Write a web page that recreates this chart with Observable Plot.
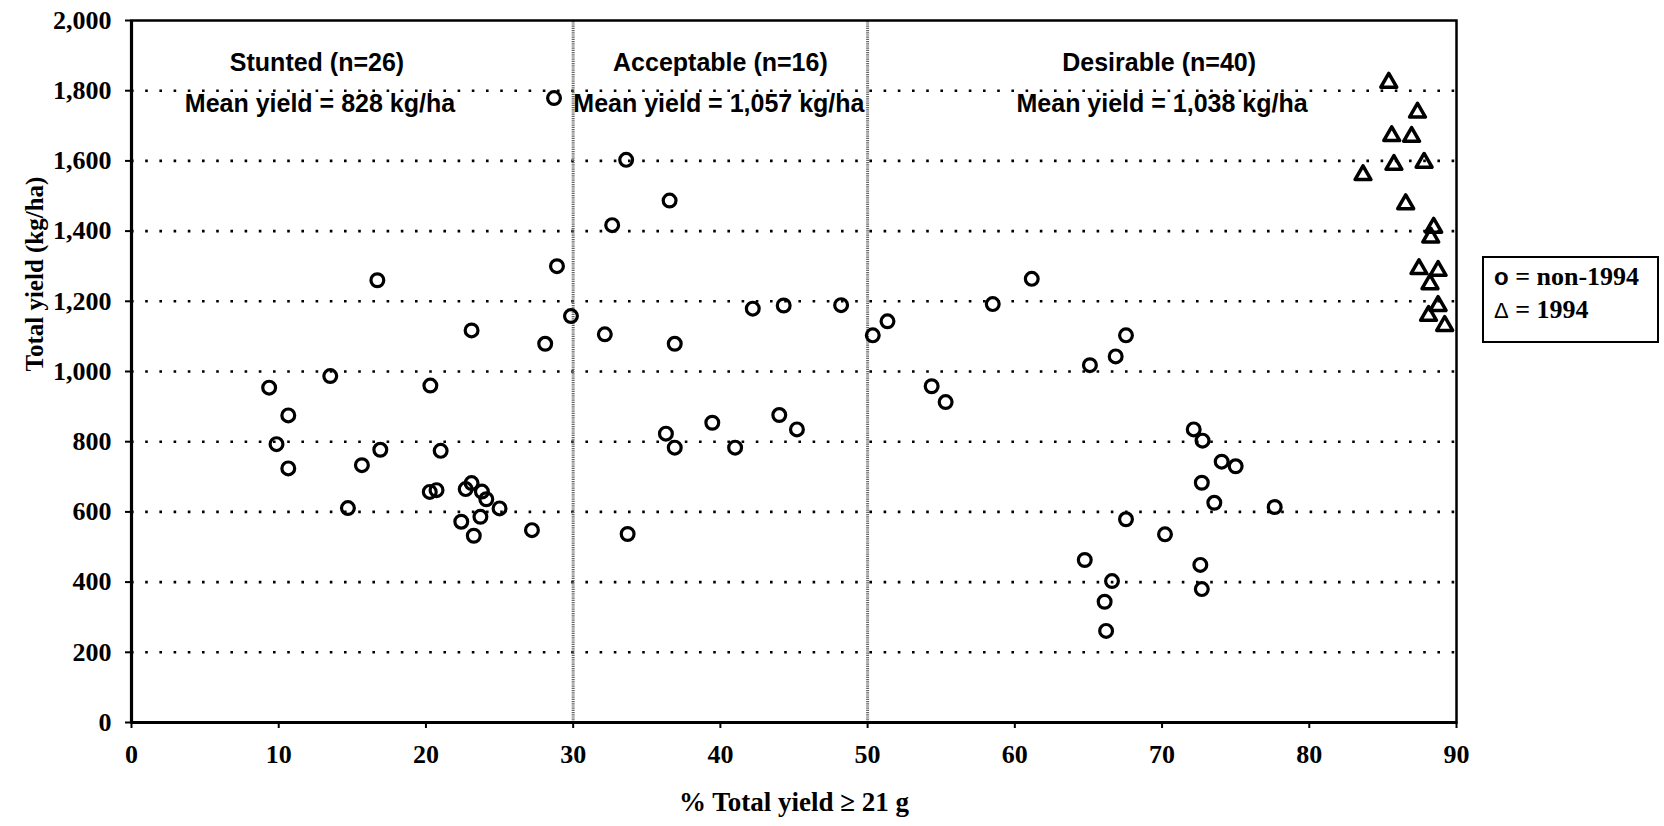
<!DOCTYPE html>
<html>
<head>
<meta charset="utf-8">
<script src="https://cdn.jsdelivr.net/npm/d3@7"></script>
<script src="https://cdn.jsdelivr.net/npm/@observablehq/plot@0.6"></script>
<style>
  html, body { margin: 0; padding: 0; background: #fff; }
  #wrap { position: relative; width: 1664px; height: 826px; }
  #legend {
    position: absolute; left: 1482px; top: 256px; width: 177px; height: 87px;
    box-sizing: border-box; border: 2px solid #000; padding: 2px 0 0 10px;
    font-family: "Liberation Serif", serif; font-weight: bold; font-size: 26px;
    line-height: 33px; color: #000; white-space: nowrap;
  }
  #legend .sym { font-family: "Liberation Sans", sans-serif; font-weight: bold; font-size: 24px; }
  #legend .tri { font-family: "Liberation Sans", sans-serif; font-weight: normal; font-size: 22px; }
</style>
</head>
<body>
<div id="wrap">
  <div id="chart"></div>
  <div id="legend"><div><span class="sym">o</span> = non-1994</div><div><span class="tri">Δ</span> = 1994</div></div>
</div>
<script>
// ---- data ----
const stuntedX = [28.9, 16.7, 23.1, 28.1, 13.5, 9.35, 20.3, 10.65, 9.85, 16.9, 21.0, 10.65, 15.65, 20.26, 20.72, 23.1, 22.7, 23.8, 24.1, 25.0, 14.7, 23.7, 22.4, 23.25, 27.2, 28.7];
const stuntedY = [1300, 1260, 1117, 1079, 987, 954, 960, 875, 793, 777, 774, 724, 733, 657, 662, 682, 665, 658, 636, 610, 611, 586, 572, 532, 548, 1779];

const acceptableX = [29.85, 33.6, 36.55, 32.65, 32.15, 36.9, 42.2, 44.3, 48.2, 39.45, 44.0, 45.2, 36.3, 36.9, 41.0, 33.7];
const acceptableY = [1158, 1603, 1487, 1417, 1106, 1079, 1179, 1188, 1189, 854, 876, 835, 823, 783, 783, 537];

const desirableX = [50.35, 51.35, 58.5, 61.15, 54.35, 55.3, 65.1, 66.85, 67.55, 72.15, 72.75, 74.05, 75.0, 72.7, 73.55, 77.65, 67.55, 70.2, 64.75, 72.6, 66.6, 72.7, 66.1, 66.2];
const desirableY = [1103, 1143, 1192, 1264, 958, 913, 1018, 1043, 1103, 835, 803, 743, 730, 683, 626, 614, 579, 536, 463, 449, 403, 380, 344, 261];

const year1994X = [85.4, 87.35, 85.6, 86.95, 85.75, 87.8, 83.65, 86.55, 88.45, 88.25, 87.45, 88.75, 88.2, 88.75, 88.1, 89.2];
const year1994Y = [1823, 1738, 1671, 1669, 1589, 1595, 1560, 1477, 1410, 1382, 1292, 1287, 1249, 1187, 1159, 1130];

const xTicks = [0, 10, 20, 30, 40, 50, 60, 70, 80, 90];
const yTicks = [0, 200, 400, 600, 800, 1000, 1200, 1400, 1600, 1800, 2000];
const boundaries = [30, 50];

const groupNames = ["Stunted (n=26)", "Acceptable (n=16)", "Desirable (n=40)"];
const groupMeans = ["Mean yield = 828 kg/ha", "Mean yield = 1,057 kg/ha", "Mean yield = 1,038 kg/ha"];
const groupLabelX = [12.6, 40.0, 69.8];
const meanLabelX = [12.8, 39.9, 70.0];
const groupLabelY = 1880;
const meanLabelY = 1762;

const xTitle = "% Total yield \u2265 21 g";
const yTitle = "Total yield (kg/ha)";

// ---- tables ----
const zip = (xs, ys) => xs.map((x, i) => ({x, y: ys[i]}));
const nonData = [...zip(stuntedX, stuntedY), ...zip(acceptableX, acceptableY), ...zip(desirableX, desirableY)];
const triData = zip(year1994X, year1994Y);
const names = groupNames.map((t, i) => ({t, x: groupLabelX[i], y: groupLabelY}));
const means = groupMeans.map((t, i) => ({t, x: meanLabelX[i], y: meanLabelY}));
const gridVals = yTicks.filter(v => v > 0 && v < 2000);

const plot = Plot.plot({
  width: 1664,
  height: 826,
  marginLeft: 131,
  marginRight: 208,
  marginTop: 20,
  marginBottom: 104,
  style: {fontFamily: "Liberation Serif, serif", fontWeight: "bold", fontSize: "26px", color: "#000", background: "#fff", overflow: "visible"},
  x: {domain: [0, 90], ticks: xTicks, tickSize: 6, tickPadding: 16, label: null, tickFormat: d3.format("d")},
  y: {domain: [0, 2000], ticks: yTicks, tickSize: 6, tickPadding: 14, label: null, tickFormat: d3.format(",")},
  marks: [
    Plot.ruleY(gridVals, {stroke: "#000", strokeWidth: 2.6, strokeDasharray: "2.6 11.6"}),
    Plot.ruleX(boundaries, {y1: 0, y2: 2000, stroke: "#666", strokeWidth: 3, strokeDasharray: "1.2 1"}),
    Plot.frame({stroke: "#000", strokeWidth: 2.5}),
    Plot.ruleY([0], {stroke: "#000", strokeWidth: 3.2}),
    Plot.ruleX([0], {stroke: "#000", strokeWidth: 3.2}),
    Plot.dot(nonData, {x: "x", y: "y", r: 6.4, stroke: "#000", strokeWidth: 3.2, fill: "none"}),
    Plot.dot(triData, {x: "x", y: "y", symbol: "triangle", r: 5.9, stroke: "#000", strokeWidth: 3.5, fill: "none", strokeLinejoin: "round"}),
    Plot.text(names, {x: "x", y: "y", text: "t", fontFamily: "Liberation Sans, sans-serif", fontWeight: "bold", fontSize: 25, fill: "#000"}),
    Plot.text(means, {x: "x", y: "y", text: "t", fontFamily: "Liberation Sans, sans-serif", fontWeight: "bold", fontSize: 25, fill: "#000"}),
    Plot.text([xTitle], {frameAnchor: "bottom", dy: 88, text: d => d, fontSize: 27, fontWeight: "bold", fill: "#000"}),
    Plot.text([yTitle], {frameAnchor: "left", dx: -97, rotate: -90, text: d => d, fontSize: 25, fontWeight: "bold", fill: "#000"})
  ]
});
plot.querySelectorAll("[aria-label$='tick'] path, [aria-label$='axis'] path").forEach(p => p.setAttribute("stroke-width", "2"));
document.getElementById("chart").appendChild(plot);
</script>
</body>
</html>
